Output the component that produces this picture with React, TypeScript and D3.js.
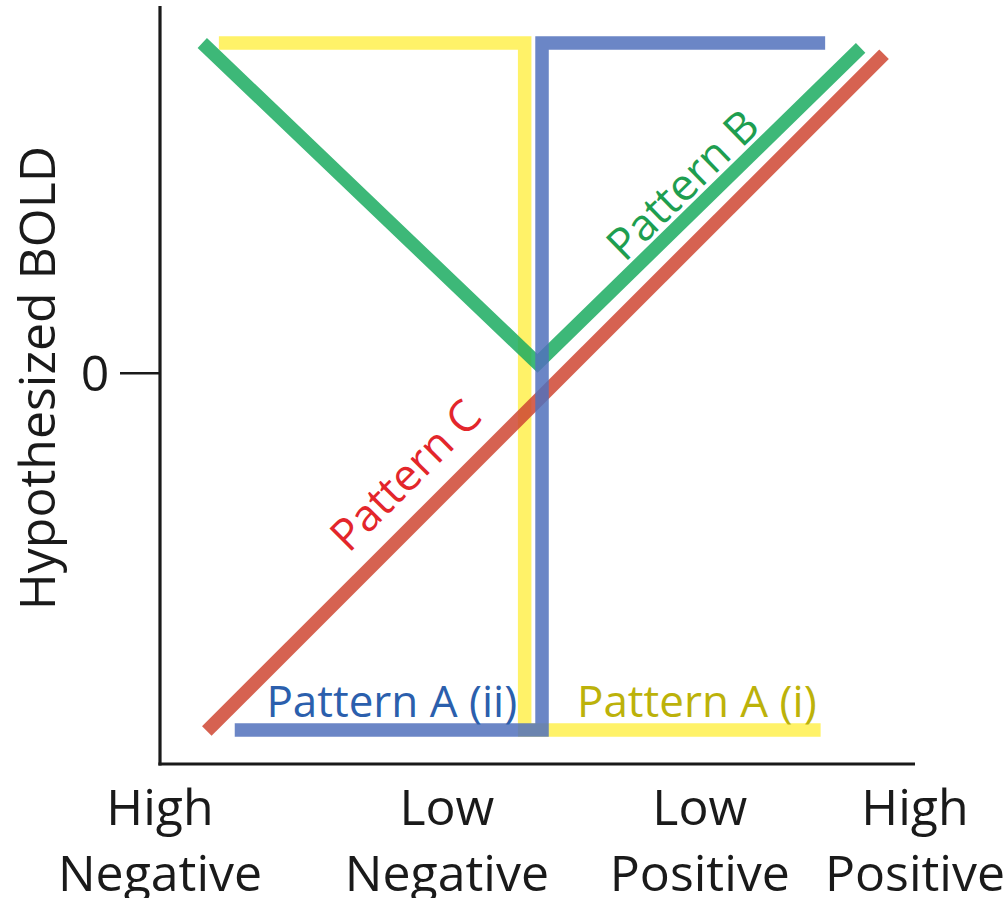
import React from "react";
import * as d3 from "d3";

type Pt = { x: number; y: number };

// x: stimulus value (0 = high negative ... 100 = high positive); y: hypothesized BOLD
const xTickLabels: string[][] = [
  ["High", "Negative"],
  ["Low", "Negative"],
  ["Low", "Positive"],
  ["High", "Positive"],
];
const xTickValues = [0, 38, 71.5, 100];
const yTickValues = [0];
const yTickLabels = ["0"];

const patternAi: Pt[] = [
  { x: 7.8, y: 1 },
  { x: 48.3, y: 1 },
  { x: 48.3, y: -1.08 },
  { x: 87.5, y: -1.08 },
];
const patternAii: Pt[] = [
  { x: 9.9, y: -1.08 },
  { x: 50.6, y: -1.08 },
  { x: 50.6, y: 1 },
  { x: 88.1, y: 1 },
];
const patternB: Pt[] = [
  { x: 5.6, y: 1 },
  { x: 50.0, y: 0.03 },
  { x: 92.8, y: 0.985 },
];
const patternC: Pt[] = [
  { x: 6.2, y: -1.083 },
  { x: 95.9, y: 0.966 },
];

const seriesNames = ["Pattern A (i)", "Pattern B", "Pattern C", "Pattern A (ii)"];
const seriesData = [patternAi, patternB, patternC, patternAii];
const lineColors = ["#fff04d", "#1bac60", "#cf4633", "#5171bc"];
const textColors = ["#bcb20a", "#1e9e50", "#e3262b", "#2b5fad"];

export default function App() {
  const W = 1005;
  const H = 898;
  const x = d3.scaleLinear().domain([0, 100]).range([160, 915]);
  const y = d3.scaleLinear().domain([-1.08, 1]).range([730, 43]);
  const line = d3
    .line<Pt>()
    .x((d) => x(d.x))
    .y((d) => y(d.y));

  const font = "'Open Sans', 'Noto Sans', sans-serif";
  const axisColor = "#1a1a1a";

  // rotated labels along diagonal lines
  const diagLabel = (pts: Pt[], seg: number, px: number, off: number) => {
    const a = pts[seg];
    const b = pts[seg + 1];
    const x0 = x(a.x), y0 = y(a.y), x1 = x(b.x), y1 = y(b.y);
    const ang = (Math.atan2(y1 - y0, x1 - x0) * 180) / Math.PI;
    const t = (px - x0) / (x1 - x0);
    const cy = y0 + t * (y1 - y0);
    return { tx: px, ty: cy, ang, off };
  };

  const lblC = diagLabel(patternC, 0, 434, -25);
  const lblB = diagLabel(patternB, 1, 701, -11);
  const labelSize = 44;
  const axisSize = 50;

  return (
    <svg
      width={W}
      height={H}
      style={{ position: "absolute", left: 0, top: 0, background: "#fff" }}
      fontFamily={font}
    >
      <rect width={W} height={H} fill="#fff" />
      {/* lines */}
      {seriesData.map((d, i) => (
        <path
          key={seriesNames[i]}
          d={line(d) || ""}
          fill="none"
          stroke={lineColors[i]}
          strokeOpacity={0.85}
          strokeWidth={13.5}
          strokeLinejoin="miter"
          strokeLinecap="butt"
        />
      ))}

      {/* axes */}
      <line x1={x(0)} x2={x(0)} y1={6} y2={765.5} stroke={axisColor} strokeWidth={3.2} />
      <line x1={x(0) - 1.6} x2={x(100)} y1={764} y2={764} stroke={axisColor} strokeWidth={3.2} />
      {yTickValues.map((v, i) => (
        <g key={"yt" + i}>
          <line x1={120} x2={x(0)} y1={y(v)} y2={y(v)} stroke={axisColor} strokeWidth={2.5} />
          <text x={95} y={y(v) + 18} textAnchor="middle" fontSize={axisSize} fill={axisColor}>
            {yTickLabels[i]}
          </text>
        </g>
      ))}
      {xTickValues.map((v, i) => (
        <text key={"xt" + i} textAnchor="middle" fontSize={axisSize} fill={axisColor}>
          <tspan x={x(v)} y={825}>{xTickLabels[i][0]}</tspan>
          <tspan x={x(v)} y={891}>{xTickLabels[i][1]}</tspan>
        </text>
      ))}
      <text
        transform={`translate(55, 378) rotate(-90)`}
        textAnchor="middle"
        fontSize={axisSize}
        fill={axisColor}
      >
        Hypothesized BOLD
      </text>

      {/* series labels */}
      <text x={x(30.7)} y={717} textAnchor="middle" fontSize={labelSize} fill={textColors[3]}>
        {seriesNames[3]}
      </text>
      <text x={x(71.1)} y={717} textAnchor="middle" fontSize={labelSize} fill={textColors[0]}>
        {seriesNames[0]}
      </text>
      <text
        transform={`translate(${lblC.tx}, ${lblC.ty}) rotate(${lblC.ang})`}
        y={lblC.off}
        textAnchor="middle"
        fontSize={labelSize}
        fill={textColors[2]}
      >
        {seriesNames[2]}
      </text>
      <text
        transform={`translate(${lblB.tx}, ${lblB.ty}) rotate(${lblB.ang})`}
        y={lblB.off}
        textAnchor="middle"
        fontSize={labelSize}
        fill={textColors[1]}
      >
        {seriesNames[1]}
      </text>
    </svg>
  );
}
